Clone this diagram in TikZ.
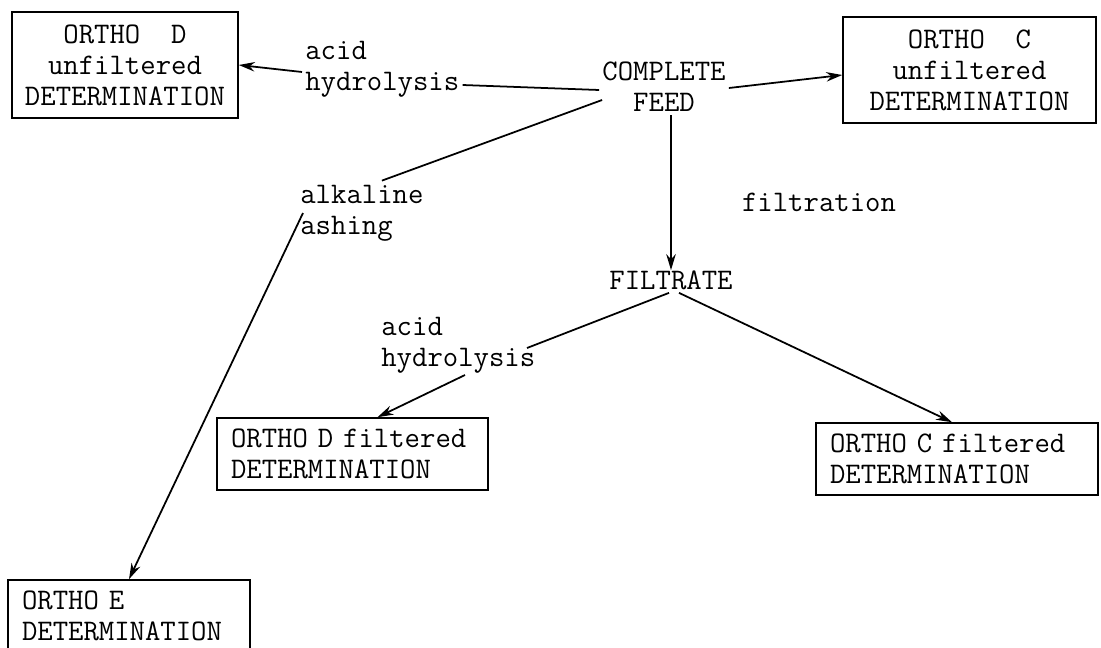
\documentclass[tikz,border=0pt]{standalone}
\usepackage{tikz}
\usetikzlibrary{arrows.meta, positioning, calc}

\begin{document}
\begin{tikzpicture}[
  every node/.style={font=\ttfamily\fontsize{17}{17.6}\selectfont},
  detbox/.style={
    rectangle, draw=black, line width=0.9pt,
    minimum height=2.12cm, align=center, inner sep=2pt},
  filbox/.style={
    rectangle, draw=black, line width=0.9pt,
    minimum height=1.44cm, align=left, inner xsep=0.28cm},
  step lbl/.style={align=left, inner sep=0pt},
  arr/.style={
    -{Stealth[length=3.2mm,width=1.9mm]},
    draw=black, line width=1pt},
  ln/.style={draw=black, line width=1pt},
]
\useasboundingbox (0,0) rectangle (22.02,-12.96);

% boxes
\node[detbox, minimum width=4.52cm] (dunf) at (2.50, -1.30)
  {ORTHO\ \ D\\unfiltered\\DETERMINATION};
\node[detbox, minimum width=5.06cm] (cunf) at (19.39, -1.40)
  {ORTHO\ \ C\\unfiltered\\DETERMINATION};
\node[filbox, text width=4.86cm] (dfil) at (7.05, -9.08)
  {ORTHO D filtered\\DETERMINATION};
\node[filbox, text width=5.08cm] (cfil) at (19.14, -9.18)
  {ORTHO C filtered\\DETERMINATION};
\node[filbox, text width=4.28cm] (ebox) at (2.58, -12.32)
  {ORTHO E\\DETERMINATION};

% stages
\node[align=center, inner sep=0pt] (feed) at (13.28, -1.74)
  {COMPLETE\\FEED};
\node[inner sep=0pt] (filtrate) at (13.42, -5.60) {FILTRATE};

% labels
\node[step lbl, anchor=west] (acidtop) at (6.10, -1.38)
  {acid\\hydrolysis};
\node[step lbl, anchor=west] (alk) at (6.00, -4.26)
  {alkaline\\ashing};
\node[step lbl] (filt) at (16.38, -4.04) {filtration};
\node[step lbl, anchor=west] (acidlow) at (7.62, -6.90)
  {acid\\hydrolysis};

% connectors
\draw[ln] ($(feed.west)+(-0.06,-0.06)$) -- ($(acidtop.east)+(0.06,-0.32)$);
\draw[arr] ($(acidtop.west)+(-0.06,-0.06)$) -- (dunf.east);

\draw[arr] ($(feed.east)+(0.06,-0.02)$) -- ($(cunf.west)+(0,-0.1)$);

\draw[ln] ($(feed.west)+(0,-0.26)$) -- ($(alk.north)+(0.4,0.08)$);
\draw[arr] ($(alk.west)+(0.06,0)$) -- (ebox.north);

\draw[arr] (feed.south -| filtrate) ++(0,-0.06) -- (filtrate.north);

\draw[ln] ($(filtrate.south)+(-0.04,-0.06)$) -- ($(acidlow.west)+(2.92,-0.06)$);
\draw[arr] ($(acidlow.west)+(1.68,-0.6)$) -- ($(dfil.north)+(0.5,0)$);

\draw[arr] ($(filtrate.south)+(0.16,-0.06)$) -- ($(cfil.north)+(-0.1,0)$);

\end{tikzpicture}
\end{document}
